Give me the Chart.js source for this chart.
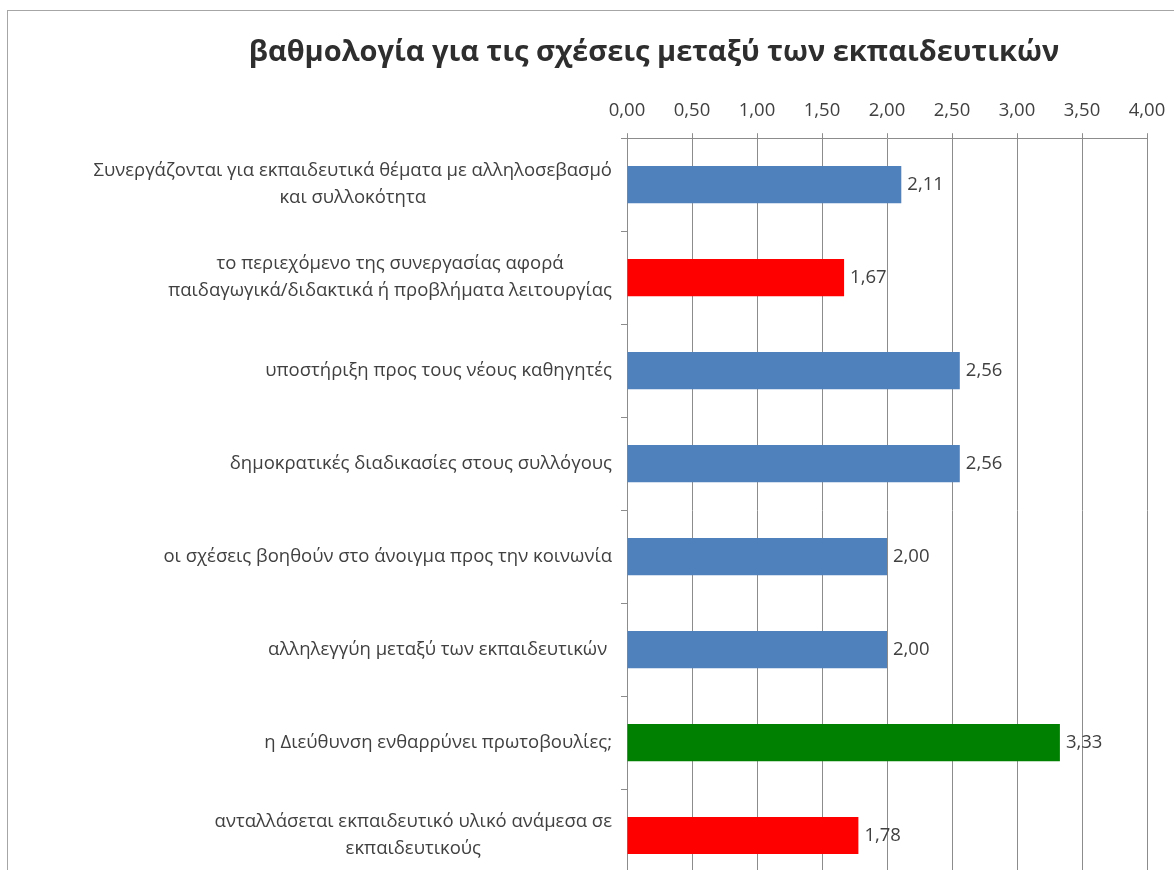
<!DOCTYPE html>
<html>
<head>
<meta charset="utf-8">
<script src="https://cdn.jsdelivr.net/npm/chart.js@4.4.1/dist/chart.umd.min.js"></script>
<style>
  html, body { margin: 0; padding: 0; background: #ffffff; overflow: hidden; width: 1174px; height: 870px; }
  #frame { position: absolute; left: 7px; top: 10px; width: 2000px; height: 2000px;
           border-left: 1px solid #a6a6a6; border-top: 1px solid #a6a6a6; }
  #c { position: absolute; left: 0; top: 0; }
</style>
</head>
<body>
<div id="frame"><canvas id="c" width="1292" height="884"></canvas></div>
<script>
const chartTitle = "βαθμολογία για τις σχέσεις μεταξύ των εκπαιδευτικών";
const categories = [
  ["Συνεργάζονται για εκπαιδευτικά θέματα με αλληλοσεβασμό", "και συλλοκότητα"],
  ["το περιεχόμενο της συνεργασίας αφορά", "παιδαγωγικά/διδακτικά ή προβλήματα λειτουργίας"],
  "υποστήριξη προς τους νέους καθηγητές",
  "δημοκρατικές διαδικασίες στους συλλόγους",
  "οι σχέσεις βοηθούν στο άνοιγμα προς την κοινωνία",
  "αλληλεγγύη μεταξύ των εκπαιδευτικών ",
  "η Διεύθυνση ενθαρρύνει πρωτοβουλίες;",
  ["ανταλλάσεται εκπαιδευτικό υλικό ανάμεσα σε", "εκπαιδευτικούς"]
];
const values = [2.11, 1.67, 2.56, 2.56, 2.00, 2.00, 3.33, 1.78];
const barColors = ["#4F81BD", "#FF0000", "#4F81BD", "#4F81BD", "#4F81BD", "#4F81BD", "#008000", "#FF0000"];
const xMin = 0, xMax = 4, xStep = 0.5;

const FONT = "'Open Sans', sans-serif";
const TEXT = "#404040";
const GRID = "#8c8c8c";
const LABEL_SIZE = 18.5;
const LINE_H = 27;

function fmt(v) { return Number(v).toFixed(2).replace('.', ','); }

const titlePlugin = {
  id: 'centeredTitle',
  afterDraw(chart) {
    const ctx = chart.ctx;
    ctx.save();
    ctx.font = "bold 29px " + FONT;
    ctx.fillStyle = "#2e2e2e";
    ctx.textAlign = 'center';
    ctx.textBaseline = 'middle';
    ctx.fillText(chartTitle, chart.width / 2, 42);
    ctx.restore();
  }
};

const catLabelPlugin = {
  id: 'catLabels',
  afterDraw(chart) {
    const ctx = chart.ctx;
    const ys = chart.scales.y;
    const right = ys.right - 15;
    ctx.save();
    ctx.font = LABEL_SIZE + "px " + FONT;
    ctx.fillStyle = TEXT;
    ctx.textAlign = 'center';
    ctx.textBaseline = 'middle';
    categories.forEach((lab, i) => {
      const lines = Array.isArray(lab) ? lab : [lab];
      let maxW = 0;
      lines.forEach(l => { maxW = Math.max(maxW, ctx.measureText(l).width); });
      const cx = right - maxW / 2;
      const cy = ys.getPixelForValue(i);
      const y0 = cy - (lines.length - 1) * LINE_H / 2;
      lines.forEach((l, k) => ctx.fillText(l, cx, y0 + k * LINE_H));
    });
    ctx.restore();
  }
};

const valueLabelPlugin = {
  id: 'valueLabels',
  afterDatasetsDraw(chart) {
    const ctx = chart.ctx;
    const meta = chart.getDatasetMeta(0);
    ctx.save();
    ctx.font = LABEL_SIZE + "px " + FONT;
    ctx.fillStyle = TEXT;
    ctx.textAlign = 'left';
    ctx.textBaseline = 'middle';
    meta.data.forEach((bar, i) => {
      ctx.fillText(fmt(values[i]), bar.x + 6, bar.y);
    });
    ctx.restore();
  }
};

new Chart(document.getElementById('c'), {
  type: 'bar',
  data: {
    labels: categories,
    datasets: [{
      data: values,
      backgroundColor: barColors,
      borderWidth: 0,
      categoryPercentage: 1.0,
      barPercentage: 0.4
    }]
  },
  options: {
    indexAxis: 'y',
    responsive: false,
    animation: false,
    devicePixelRatio: 1,
    layout: { padding: { left: 0, right: 153, top: 78, bottom: 13 } },
    plugins: {
      legend: { display: false },
      tooltip: { enabled: false },
      title: { display: false }
    },
    scales: {
      x: {
        position: 'top',
        min: xMin, max: xMax,
        ticks: {
          stepSize: xStep,
          color: TEXT,
          font: { family: FONT, size: LABEL_SIZE },
          padding: 11,
          maxRotation: 0,
          callback: (v) => fmt(v)
        },
        grid: { color: GRID, lineWidth: 1, tickLength: 5, drawTicks: true },
        border: { display: true, color: GRID }
      },
      y: {
        offset: true,
        ticks: { display: false },
        grid: { display: true, drawOnChartArea: false, drawTicks: true, tickLength: 6, color: GRID, offset: true },
        border: { display: true, color: GRID },
        afterFit(scale) { scale.width = 619; }
      }
    }
  },
  plugins: [catLabelPlugin, valueLabelPlugin, titlePlugin]
});
</script>
</body>
</html>
